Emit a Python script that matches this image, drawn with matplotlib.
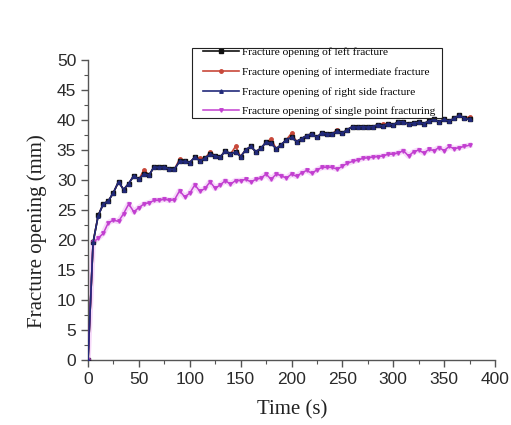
import numpy as np
import matplotlib.pyplot as plt
from matplotlib.patches import Rectangle
from matplotlib.ticker import MultipleLocator

# time samples (s), one every 5 s
time_s = list(range(0, 380, 5))

left_frac = [0, 19.6, 24.1, 26.0, 26.5, 27.9, 29.7, 28.4, 29.4, 30.7,
             30.1, 31.0, 30.8, 32.2, 32.1, 32.2, 31.8, 31.8, 33.1, 33.1,
             32.9, 33.8, 33.2, 33.6, 34.3, 34.0, 33.8, 34.9, 34.3, 34.7,
             33.9, 35.0, 35.6, 34.7, 35.3, 36.3, 36.1, 35.2, 35.9, 36.7,
             37.1, 36.4, 36.9, 37.4, 37.7, 37.1, 37.9, 37.6, 37.7, 38.1,
             37.8, 38.4, 38.9, 38.8, 38.9, 38.8, 38.9, 39.2, 39.0, 39.4,
             39.2, 39.7, 39.7, 39.3, 39.5, 39.6, 39.4, 39.8, 40.1, 39.7,
             40.1, 39.8, 40.3, 40.8, 40.3, 40.1]

mid_frac = [0, 19.6, 24.1, 26.0, 26.5, 27.9, 29.7, 28.4, 29.4, 30.7,
            30.1, 31.7, 30.8, 32.2, 32.1, 32.2, 31.8, 31.8, 33.5, 33.1,
            32.9, 33.8, 33.6, 33.6, 34.7, 34.0, 33.8, 34.9, 34.3, 35.6,
            33.9, 35.0, 35.6, 34.7, 35.3, 36.3, 36.8, 35.2, 35.9, 36.7,
            37.8, 36.4, 36.9, 37.4, 37.7, 37.1, 37.9, 37.6, 37.7, 38.4,
            37.8, 38.4, 38.9, 38.8, 38.9, 38.8, 38.9, 39.2, 39.3, 39.4,
            39.2, 39.7, 39.7, 39.3, 39.5, 39.6, 39.4, 39.8, 40.1, 39.7,
            40.1, 39.8, 40.3, 40.8, 40.3, 40.5]

right_frac = [0, 19.6, 24.0, 26.0, 26.5, 27.9, 29.7, 28.4, 29.4, 30.7,
              30.1, 31.0, 30.8, 32.2, 32.1, 32.2, 31.8, 31.8, 33.1, 33.1,
              32.9, 33.8, 33.2, 33.6, 34.3, 34.0, 33.8, 34.9, 34.3, 34.7,
              33.9, 35.0, 35.6, 34.7, 35.3, 36.3, 36.1, 35.2, 35.9, 36.7,
              37.1, 36.4, 36.9, 37.4, 37.7, 37.1, 37.9, 37.6, 37.7, 38.1,
              37.8, 38.4, 38.9, 38.8, 38.9, 38.8, 38.9, 39.2, 39.0, 39.4,
              39.2, 39.7, 39.7, 39.3, 39.5, 39.6, 39.4, 39.8, 40.1, 39.7,
              40.1, 39.8, 40.3, 40.8, 40.3, 40.1]

single_point = [0, 19.6, 20.3, 21.1, 22.9, 23.3, 23.1, 24.4, 26.0, 24.7,
                25.4, 26.0, 26.2, 26.6, 26.6, 26.8, 26.6, 26.7, 28.2, 27.2,
                27.8, 29.2, 28.1, 28.6, 29.7, 28.6, 29.2, 29.9, 29.3, 29.9,
                29.9, 30.1, 29.7, 30.1, 30.3, 31.0, 30.1, 31.0, 30.7, 30.3,
                31.0, 30.6, 31.2, 31.6, 31.1, 31.7, 32.1, 32.1, 32.1, 31.8,
                32.3, 32.8, 33.1, 33.3, 33.6, 33.7, 33.8, 33.9, 34.0, 34.3,
                34.3, 34.5, 34.9, 34.0, 34.7, 35.0, 34.5, 35.1, 34.9, 35.4,
                34.9, 35.6, 35.2, 35.4, 35.6, 35.8]

labels = ["Fracture opening of left fracture",
          "Fracture opening of intermediate fracture",
          "Fracture opening of right side fracture",
          "Fracture opening of single point fracturing"]

W, H = 511, 425
fig = plt.figure(figsize=(W / 100, H / 100), dpi=100)
ax = fig.add_axes([88 / W, 1 - 360 / H, 407 / W, 300 / H])

# soft halo under the single point curve
ax.plot(time_s, single_point, color="#eeb4f4", lw=4, alpha=0.5, zorder=1)

ax.plot(time_s, left_frac, color="#111111", lw=1.2, marker="s", ms=2.5,
        label=labels[0], zorder=3)
ax.plot(time_s, mid_frac, color="#c8483a", lw=1.2, marker="o", ms=2.5,
        label=labels[1], zorder=2)
ax.plot(time_s, right_frac, color="#222a7a", lw=1.2, marker="^", ms=2.5,
        label=labels[2], zorder=4)
ax.plot(time_s, single_point, color="#c23fd0", lw=1.1, marker="v", ms=2.5,
        label=labels[3], zorder=3)

ax.set_xlim(0, 400)
ax.set_ylim(0, 50)
ax.xaxis.set_major_locator(MultipleLocator(50))
ax.xaxis.set_minor_locator(MultipleLocator(25))
ax.yaxis.set_major_locator(MultipleLocator(5))
ax.yaxis.set_minor_locator(MultipleLocator(2.5))

for side in ("top", "right"):
    ax.spines[side].set_visible(False)
for side in ("left", "bottom"):
    ax.spines[side].set_color("#555555")
    ax.spines[side].set_linewidth(1.0)

ax.tick_params(which="major", direction="out", length=5, width=1,
               colors="#555555", labelcolor="#2a2a2a", labelsize=12.5)
ax.tick_params(which="minor", direction="out", length=3, width=0.8,
               colors="#555555")
for lab in ax.get_xticklabels() + ax.get_yticklabels():
    lab.set_family("Liberation Sans")

ax.set_xlabel("Time (s)", family="Liberation Serif", fontsize=15,
              color="#222222", va="top")
ax.xaxis.set_label_coords(0.502, -0.133)
ax.set_ylabel("Fracture opening (mm)", family="Liberation Serif",
              fontsize=15, color="#222222", va="bottom")
ax.yaxis.set_label_coords(-0.101, 0.43)

leg = ax.legend(loc="upper left", bbox_to_anchor=(203 / W, 1 - 47 / H),
                bbox_transform=fig.transFigure,
                prop={"family": "Liberation Serif", "size": 8.2},
                frameon=False, borderpad=0, labelspacing=0.86,
                handlelength=3.2, handletextpad=0.25, borderaxespad=0)

# legend frame, taller than the axes top
fig.patches.append(Rectangle((192 / W, 1 - 118 / H), 250 / W, 70 / H,
                             transform=fig.transFigure, fill=False,
                             edgecolor="#222222", lw=0.8, zorder=5))

fig.savefig("out.png", dpi=100)
